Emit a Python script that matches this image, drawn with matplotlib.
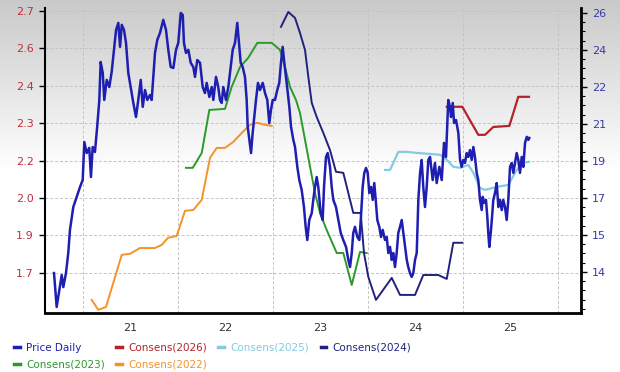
import matplotlib
matplotlib.use("Agg")
import matplotlib.pyplot as plt
import numpy as np
from matplotlib.lines import Line2D

# ---------------- data ----------------
price_t = [
    2020.698, 2020.726, 2020.754, 2020.779, 2020.796, 2020.824, 2020.848, 2020.866, 2020.901, 2020.937,
    2020.972, 2021.000, 2021.017, 2021.042, 2021.069, 2021.087, 2021.105, 2021.129, 2021.154, 2021.175,
    2021.189, 2021.211, 2021.227, 2021.253, 2021.280, 2021.305, 2021.329, 2021.351, 2021.375, 2021.393,
    2021.411, 2021.435, 2021.456, 2021.480, 2021.505, 2021.533, 2021.561, 2021.585, 2021.611, 2021.632,
    2021.656, 2021.680, 2021.708, 2021.726, 2021.743, 2021.761, 2021.785, 2021.814, 2021.848, 2021.877,
    2021.901, 2021.926, 2021.954, 2021.982, 2022.006, 2022.032, 2022.053, 2022.066, 2022.087, 2022.112,
    2022.137, 2022.164, 2022.182, 2022.206, 2022.235, 2022.263, 2022.287, 2022.305, 2022.333, 2022.358,
    2022.375, 2022.403, 2022.427, 2022.445, 2022.463, 2022.480, 2022.508, 2022.533, 2022.558, 2022.579,
    2022.603, 2022.627, 2022.642, 2022.663, 2022.684, 2022.708, 2022.726, 2022.737, 2022.754, 2022.772,
    2022.789, 2022.803, 2022.824, 2022.845, 2022.866, 2022.895, 2022.919, 2022.943, 2022.964, 2022.982,
    2023.000, 2023.024, 2023.048, 2023.069, 2023.087, 2023.105, 2023.119, 2023.147, 2023.175, 2023.193,
    2023.217, 2023.235, 2023.259, 2023.280, 2023.305, 2023.329, 2023.347, 2023.364, 2023.385, 2023.411,
    2023.427, 2023.445, 2023.463, 2023.480, 2023.505, 2023.526, 2023.540, 2023.561, 2023.579, 2023.603,
    2023.621, 2023.638, 2023.666, 2023.691, 2023.716, 2023.743, 2023.772, 2023.796, 2023.814, 2023.832,
    2023.848, 2023.866, 2023.891, 2023.912, 2023.929, 2023.947, 2023.964, 2023.982, 2024.000, 2024.017,
    2024.035, 2024.053, 2024.069, 2024.087, 2024.101, 2024.122, 2024.140, 2024.158, 2024.182, 2024.200,
    2024.217, 2024.235, 2024.253, 2024.269, 2024.287, 2024.305, 2024.322, 2024.340, 2024.358, 2024.375,
    2024.393, 2024.411, 2024.427, 2024.445, 2024.463, 2024.480, 2024.498, 2024.516, 2024.533, 2024.551,
    2024.568, 2024.585, 2024.603, 2024.621, 2024.638, 2024.656, 2024.684, 2024.708, 2024.726, 2024.754,
    2024.779, 2024.803, 2024.824, 2024.848, 2024.866, 2024.877, 2024.895, 2024.909, 2024.930, 2024.954,
    2024.972, 2024.989, 2025.006, 2025.024, 2025.042, 2025.059, 2025.077, 2025.095, 2025.112, 2025.129,
    2025.147, 2025.164, 2025.182, 2025.200, 2025.211, 2025.224, 2025.245, 2025.259, 2025.269, 2025.280,
    2025.295, 2025.309, 2025.322, 2025.340, 2025.358, 2025.375, 2025.393, 2025.411, 2025.427, 2025.445,
    2025.463, 2025.480, 2025.498, 2025.516, 2025.533, 2025.551, 2025.568, 2025.585, 2025.603, 2025.621,
    2025.638, 2025.656, 2025.674, 2025.691, 2025.701,
]
price_v = [
    13.95, 12.38, 13.17, 13.86, 13.30, 13.95, 14.88, 15.95, 17.01, 17.48,
    17.94, 18.26, 20.02, 19.51, 19.75, 18.40, 19.79, 19.56, 20.81, 21.97,
    23.73, 23.22, 21.97, 22.90, 22.57, 23.27, 24.29, 25.21, 25.54, 24.43,
    25.45, 25.21, 24.61, 23.22, 22.57, 21.83, 21.18, 21.97, 22.90, 21.65,
    22.43, 21.97, 22.20, 21.97, 23.04, 24.15, 24.75, 25.08, 25.68, 25.21,
    24.29, 23.50, 23.45, 24.29, 24.61, 26.00, 25.91, 24.61, 24.15, 24.29,
    23.69, 23.50, 23.04, 23.82, 23.69, 22.57, 22.29, 22.76, 22.11, 22.57,
    21.97, 23.04, 22.57, 21.97, 21.83, 22.57, 21.97, 22.57, 23.50, 24.29,
    24.61, 25.54, 24.75, 23.69, 23.50, 23.04, 21.97, 20.72, 20.12, 19.51,
    20.44, 21.04, 21.97, 22.76, 22.43, 22.76, 22.29, 21.97, 20.90, 21.51,
    21.97, 21.97, 22.43, 22.76, 23.69, 24.43, 23.82, 22.76, 21.65, 20.72,
    20.12, 19.79, 18.87, 18.26, 17.80, 17.01, 16.09, 15.48, 16.41, 16.73,
    17.34, 17.94, 18.40, 17.94, 16.73, 16.41, 17.94, 19.33, 19.51, 18.87,
    17.94, 17.34, 17.01, 16.41, 15.81, 15.48, 15.16, 14.56, 14.23, 14.88,
    15.81, 16.09, 15.62, 15.48, 16.55, 17.94, 18.59, 18.82, 18.59, 17.66,
    17.94, 17.34, 18.12, 17.20, 16.41, 16.09, 15.62, 15.95, 15.48, 15.62,
    14.88, 15.16, 14.56, 14.88, 14.23, 14.88, 15.81, 16.09, 16.41, 15.81,
    15.16, 14.56, 14.23, 13.95, 13.77, 13.95, 14.56, 14.88, 17.34, 18.59,
    19.19, 17.94, 17.01, 17.94, 19.19, 19.33, 18.26, 19.05, 18.12, 18.87,
    18.26, 19.98, 19.33, 21.97, 21.65, 21.18, 21.83, 20.90, 21.04, 20.44,
    19.19, 18.87, 19.19, 19.05, 19.51, 19.33, 19.65, 19.19, 19.79, 19.33,
    18.59, 18.26, 17.34, 16.87, 17.48, 17.20, 17.34, 16.55, 15.81, 15.16,
    15.81, 16.55, 17.34, 17.66, 18.12, 17.01, 17.34, 16.87, 17.34, 17.01,
    16.41, 17.34, 18.87, 19.05, 18.59, 19.05, 19.51, 19.19, 18.59, 19.33,
    18.87, 19.98, 20.26, 20.12, 20.21,
]

c2022_t = [2021.095, 2021.164, 2021.245, 2021.322, 2021.411, 2021.498, 2021.603, 2021.761, 2021.832,
           2021.898, 2021.989, 2022.077, 2022.164, 2022.253, 2022.340, 2022.411, 2022.498, 2022.585,
           2022.674, 2022.761, 2022.838, 2022.919, 2022.989]
c2022_v = [1.597, 1.559, 1.570, 1.662, 1.769, 1.773, 1.795, 1.795, 1.807,
           1.834, 1.841, 1.937, 1.940, 1.979, 2.139, 2.177, 2.177, 2.200,
           2.234, 2.265, 2.273, 2.265, 2.261]

c2023_t = [2022.087, 2022.158, 2022.253, 2022.333, 2022.498, 2022.568, 2022.656, 2022.743, 2022.838,
           2022.989, 2023.077, 2023.129, 2023.182, 2023.245, 2023.287, 2023.340, 2023.393, 2023.445,
           2023.498, 2023.568, 2023.674, 2023.743, 2023.832, 2023.919, 2023.989]
c2023_v = [2.101, 2.101, 2.158, 2.322, 2.326, 2.410, 2.486, 2.521, 2.578,
           2.578, 2.551, 2.486, 2.410, 2.360, 2.311, 2.208, 2.105, 2.005,
           1.929, 1.864, 1.776, 1.776, 1.654, 1.780, 1.776]

c2024_t = [2023.087, 2023.164, 2023.235, 2023.287, 2023.340, 2023.375, 2023.411, 2023.463, 2023.533,
           2023.603, 2023.666, 2023.743, 2023.848, 2023.926, 2023.961, 2024.006, 2024.087, 2024.253,
           2024.340, 2024.498, 2024.585, 2024.743, 2024.832, 2024.901, 2024.996]
c2024_v = [2.639, 2.696, 2.673, 2.616, 2.551, 2.448, 2.349, 2.295, 2.234,
           2.169, 2.086, 2.082, 1.929, 1.929, 1.776, 1.685, 1.597, 1.681,
           1.616, 1.616, 1.692, 1.692, 1.677, 1.815, 1.815]

c2025_t = [2024.182, 2024.235, 2024.322, 2024.411, 2024.516, 2024.656, 2024.761, 2024.814, 2024.901,
           2024.972, 2025.059, 2025.112, 2025.182, 2025.235, 2025.358, 2025.480, 2025.551, 2025.621,
           2025.698]
c2025_v = [2.093, 2.093, 2.162, 2.162, 2.158, 2.154, 2.151, 2.139, 2.105,
           2.101, 2.112, 2.082, 2.024, 2.017, 2.028, 2.036, 2.082, 2.120,
           2.124]

c2026_t = [2024.832, 2024.996, 2025.164, 2025.235, 2025.322, 2025.491, 2025.585, 2025.698]
c2026_v = [2.334, 2.334, 2.227, 2.227, 2.257, 2.261, 2.372, 2.372]

left_tick_labels = ["1.7", "1.9", "2.0", "2.2", "2.3", "2.4", "2.6", "2.7"]
right_tick_labels = ["14", "15", "17", "19", "21", "22", "24", "26"]
x_tick_labels = ["21", "22", "23", "24", "25"]
x_years = [2021, 2022, 2023, 2024, 2025, 2026]

# ---------------- styling ----------------
COL_PRICE = "#1e1eb0"
COL_2026 = "#b5232a"
COL_2025 = "#84cbe2"
COL_2024 = "#22227e"
COL_2023 = "#2a9a2a"
COL_2022 = "#f5922a"

W, H = 620, 372
fig = plt.figure(figsize=(W / 100, H / 100), dpi=100)

# gradient background (grey at top fading to white)
bg = fig.add_axes([0, 0, 1, 1], zorder=-10)
rows = np.arange(H)
g = np.clip(rows / 170.0, 0, 1)
shade = 0.79 + 0.21 * g
img = np.dstack([shade, shade, shade]).reshape(H, 1, 3)
bg.imshow(img, aspect="auto", extent=[0, 1, 0, 1], origin="upper")
bg.set_axis_off()

ax = fig.add_axes([44.7 / W, (H - 313) / H, (580.7 - 44.7) / W, (313 - 8) / H])
ax.set_facecolor("none")
ax.set_xlim(2020.600, 2026.242)
ax.set_ylim(1.547, 2.711)

ax2 = ax.twinx()
ax2.set_ylim(12.10, 26.23)

# left ticks
lt = [1.7 + k / 7 for k in range(len(left_tick_labels))]
ax.set_yticks(lt)
ax.set_yticklabels(left_tick_labels)
ax.tick_params(axis="y", direction="out", length=4, width=1, colors="black",
               labelcolor="#c0303a", labelsize=8, pad=4)

# right ticks
rt = [14 + k * 12 / 7 for k in range(len(right_tick_labels))]
ax2.set_yticks(rt)
ax2.set_yticklabels(right_tick_labels)
ax2.set_yticks(np.arange(14 - 4 * 3 / 7, 26.3, 3 / 7), minor=True)
ax2.tick_params(axis="y", which="major", direction="out", length=4, width=1,
                colors="black", labelcolor="#3a3aa8", labelsize=8, pad=4)
ax2.tick_params(axis="y", which="minor", direction="out", length=3, width=0.8, colors="black")

# x ticks: labels mid-year, grid at year starts
ax.set_xticks([y + 0.5 for y in x_years[:len(x_tick_labels)]])
ax.set_xticklabels(x_tick_labels)
ax.set_xticks(x_years, minor=True)
ax.tick_params(axis="x", which="both", length=0, labelsize=8, labelcolor="#333333", pad=7)

ax.grid(True, axis="y", which="major", color="#c4c4c4", linestyle=(0, (3, 2)), linewidth=0.7)
ax.grid(True, axis="x", which="minor", color="#c4c4c4", linestyle=(0, (3, 2)), linewidth=0.7)
ax.set_axisbelow(True)

for a in (ax, ax2):
    a.spines["top"].set_visible(False)
ax.spines["left"].set_linewidth(1.5)
ax.spines["bottom"].set_linewidth(2.0)
ax2.spines["right"].set_linewidth(2.0)
ax2.spines["left"].set_visible(False)
ax2.spines["bottom"].set_visible(False)

# series
ax.plot(c2022_t, c2022_v, color=COL_2022, lw=1.4, solid_joinstyle="round")
ax.plot(c2023_t, c2023_v, color=COL_2023, lw=1.4, solid_joinstyle="round")
ax.plot(c2024_t, c2024_v, color=COL_2024, lw=1.4, solid_joinstyle="round")
ax.plot(c2025_t, c2025_v, color=COL_2025, lw=1.6, solid_joinstyle="round")
ax.plot(c2026_t, c2026_v, color=COL_2026, lw=1.6, solid_joinstyle="round")
ax2.plot(price_t, price_v, color=COL_PRICE, lw=1.8, solid_joinstyle="round")

# legend (column-major fill -> order arranged so rows read as in reference)
def h(c):
    return Line2D([0], [0], color=c, lw=2.5)

handles = [h(COL_PRICE), h(COL_2023), h(COL_2026), h(COL_2022), h(COL_2025), h(COL_2024)]
labels = ["Price Daily", "Consens(2023)", "Consens(2026)", "Consens(2022)",
          "Consens(2025)", "Consens(2024)"]
fig.legend(handles, labels, loc="upper left", bbox_to_anchor=(14 / W, 1 - 343 / H),
           ncol=4, frameon=False, fontsize=7.5, handlelength=0.55, handletextpad=0.6,
           columnspacing=1.1, labelspacing=0.6, borderaxespad=0, borderpad=0,
           labelcolor="linecolor")

fig.savefig("out.png", dpi=100)
